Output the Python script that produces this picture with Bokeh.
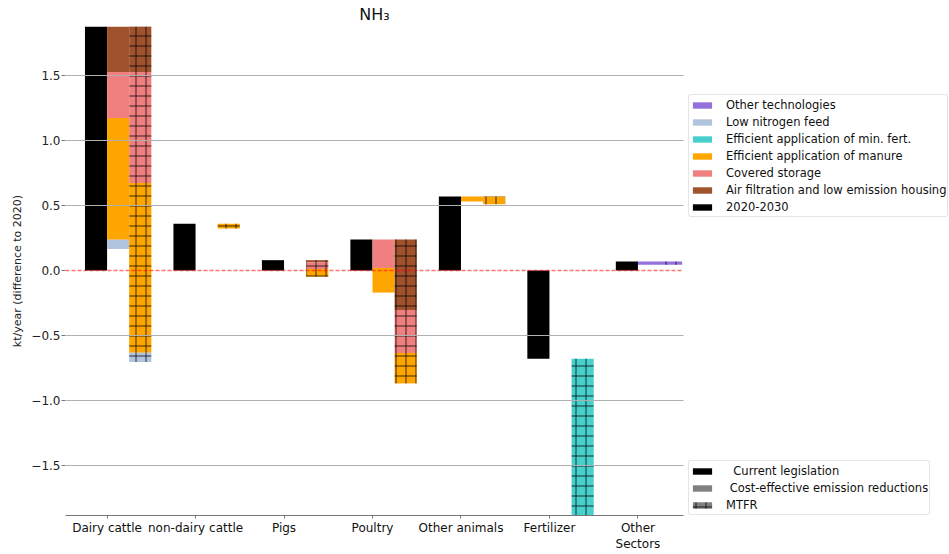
from bokeh.plotting import figure
from bokeh.layouts import row
from bokeh.models import (ColumnDataSource, FixedTicker, Span, Legend, LegendItem, Range1d)
from bokeh.embed import file_html
from bokeh.resources import INLINE

# --- data (kt/year, difference to 2020) ---------------------------------
categories = ["Dairy cattle", "non-dairy cattle", "Pigs", "Poultry",
              "Other animals", "Fertilizer", "Other\nSectors"]

# change 2020-2030 under current legislation
current_legislation = [2.10, 0.36, 0.08, 0.24, 0.57, -0.68, 0.07]

# measures, in stacking order (reductions are drawn downward from the CL value)
measures = ["Air filtration and low emission housing", "Covered storage",
            "Efficient application of manure", "Efficient application of min. fert.",
            "Low nitrogen feed", "Other technologies"]
measure_colors = ["sienna", "lightcoral", "orange", "mediumturquoise",
                  "lightsteelblue", "mediumpurple"]

# reductions, cost-effective scenario
ce_air_filtration = [0.57, 0.0, 0.0, 0.0, 0.0, 0.0, 0.0]
ce_covered_storage = [0.355, 0.0, 0.0, 0.22, 0.0, 0.0, 0.0]
ce_manure = [0.937, 0.0, 0.0, 0.19, 0.038, 0.0, 0.0]
ce_min_fert = [0.0, 0.0, 0.0, 0.0, 0.0, 0.0, 0.0]
ce_low_n_feed = [0.071, 0.0, 0.0, 0.0, 0.0, 0.0, 0.0]
ce_other_tech = [0.0, 0.0, 0.0, 0.0, 0.0, 0.0, 0.025]

# reductions, maximum technically feasible reduction (MTFR)
mtfr_air_filtration = [0.57, 0.0, 0.018, 0.545, 0.0, 0.0, 0.0]
mtfr_covered_storage = [0.855, 0.0, 0.05, 0.33, 0.0, 0.0, 0.0]
mtfr_manure = [1.308, 0.035, 0.06, 0.235, 0.059, 0.0, 0.0]
mtfr_min_fert = [0.0, 0.0, 0.0, 0.0, 0.0, 1.60, 0.0]
mtfr_low_n_feed = [0.072, 0.0, 0.0, 0.0, 0.0, 0.0, 0.0]
mtfr_other_tech = [0.0, 0.0, 0.0, 0.0, 0.0, 0.0, 0.025]

# legend order for the measures
legend_measures = ["Other technologies", "Low nitrogen feed",
                   "Efficient application of min. fert.", "Efficient application of manure",
                   "Covered storage", "Air filtration and low emission housing"]
scenarios = ["\u00a0\u00a0Current legislation", "\u00a0Cost-effective emission reductions", "MTFR"]

y_ticks = [-1.5, -1.0, -0.5, 0.0, 0.5, 1.0, 1.5]

BAR_W = 0.25
FONT = "DejaVu Sans"
HATCH = dict(hatch_pattern="+", hatch_color="black", hatch_scale=10,
             hatch_weight=1, hatch_alpha=0.75)

# --- main chart -----------------------------------------------------------
p = figure(width=684, height=554, output_backend="svg", toolbar_location=None,
           x_range=Range1d(-0.47, 6.515), y_range=Range1d(-1.888, 1.881),
           min_border_left=65, min_border_right=1, min_border_top=26,
           min_border_bottom=36)
p.outline_line_color = None
p.background_fill_color = "white"
p.border_fill_color = "white"

p.title.text = "NH\u2083"
p.title.align = "center"
p.title.text_font = FONT
p.title.text_font_size = "16px"
p.title.text_font_style = "normal"
p.title.text_color = "#111111"
p.title.standoff = 5

# current legislation bars
cl_src = ColumnDataSource(dict(
    x=[i - BAR_W / 2 for i in range(len(categories))],
    top=[max(v, 0) for v in current_legislation],
    bottom=[min(v, 0) for v in current_legislation]))
p.vbar(x="x", width=BAR_W, top="top", bottom="bottom", source=cl_src,
       fill_color="black", line_color=None)


def stacked_segments(reductions, offset, hatch):
    xs, tops, bottoms, colors = [], [], [], []
    for i, start in enumerate(current_legislation):
        level = start
        for m, series in enumerate(reductions):
            r = series[i]
            if r == 0:
                continue
            xs.append(i + offset)
            tops.append(level)
            bottoms.append(level - r)
            colors.append(measure_colors[m])
            level -= r
    src = ColumnDataSource(dict(x=xs, top=tops, bottom=bottoms, color=colors))
    kw = HATCH if hatch else {}
    p.vbar(x="x", width=BAR_W, top="top", bottom="bottom", source=src,
           fill_color="color", line_color=None, **kw)


stacked_segments([ce_air_filtration, ce_covered_storage, ce_manure,
                  ce_min_fert, ce_low_n_feed, ce_other_tech], BAR_W / 2, False)
stacked_segments([mtfr_air_filtration, mtfr_covered_storage, mtfr_manure,
                  mtfr_min_fert, mtfr_low_n_feed, mtfr_other_tech], 1.5 * BAR_W, True)

# zero reference line
p.add_layout(Span(location=0, dimension="width", line_color="red",
                  line_alpha=0.55, line_dash="4 2", line_width=1.5))

# axes and grid
p.xgrid.visible = False
p.ygrid.ticker = FixedTicker(ticks=[t for t in y_ticks if t != 0])
p.ygrid.grid_line_color = "#b0b0b0"
p.ygrid.grid_line_width = 1
p.ygrid.level = "overlay"

p.xaxis.ticker = FixedTicker(ticks=list(range(len(categories))))
p.xaxis.major_label_overrides = {i: c for i, c in enumerate(categories)}
p.xaxis.minor_tick_line_color = None
p.xaxis.axis_line_color = "#777777"
p.xaxis.major_tick_line_color = "#777777"
p.xaxis.major_tick_out = 3
p.xaxis.major_tick_in = 0
p.xaxis.major_label_standoff = 2
p.xaxis.major_label_text_font = FONT
p.xaxis.major_label_text_font_size = "12px"
p.xaxis.major_label_text_color = "#111111"

p.yaxis.ticker = FixedTicker(ticks=y_ticks)
p.yaxis.major_label_overrides = {t: ("\u2212%.1f" % -t if t < 0 else "%.1f" % t) for t in y_ticks}
p.yaxis.minor_tick_line_color = None
p.yaxis.axis_line_color = None
p.yaxis.major_tick_line_color = "#777777"
p.yaxis.major_tick_out = 4
p.yaxis.major_tick_in = 0
p.yaxis.major_label_standoff = 1
p.yaxis.major_label_text_font = FONT
p.yaxis.major_label_text_font_size = "12px"
p.yaxis.major_label_text_color = "#222222"
p.yaxis.axis_label = "kt/year (difference to 2020)"
p.yaxis.axis_label_text_font = FONT
p.yaxis.axis_label_text_font_size = "11px"
p.yaxis.axis_label_text_font_style = "normal"
p.yaxis.axis_label_text_color = "#222222"
p.yaxis.axis_label_standoff = 4

# --- legend panel -----------------------------------------------------------
# (its frame is aligned with the chart frame by the row layout)
lp = figure(width=265, height=554, output_backend="svg", toolbar_location=None,
            x_range=Range1d(0, 1), y_range=Range1d(0, 1),
            x_axis_location=None, y_axis_location=None,
            min_border_left=0, min_border_right=0, min_border_top=0,
            min_border_bottom=0)
lp.outline_line_color = None
lp.grid.visible = False
lp.background_fill_color = "white"
lp.border_fill_color = "white"


def swatch(color, hatch=False):
    # zero-size placeholder glyph; only its legend key is visible
    kw = HATCH if hatch else {}
    return lp.vbar(x=[0], top=[0], bottom=[0], width=0, fill_color=color,
                   line_color=None, **kw)


color_of = dict(zip(measures, measure_colors))
measure_items = [LegendItem(label=name, renderers=[swatch(color_of[name])])
                 for name in legend_measures]
measure_items.append(LegendItem(label="2020-2030", renderers=[swatch("black")]))

scenario_items = [
    LegendItem(label=scenarios[0], renderers=[swatch("black")]),
    LegendItem(label=scenarios[1], renderers=[swatch("#808080")]),
    LegendItem(label=scenarios[2], renderers=[swatch("#808080", True)]),
]


def style_legend(leg):
    leg.label_text_font = FONT
    leg.label_text_font_size = "11.5px"
    leg.label_text_color = "#111111"
    leg.glyph_width = 24
    leg.glyph_height = 8
    leg.label_height = 17
    leg.label_standoff = 12
    leg.spacing = 0
    leg.padding = 1
    leg.margin = 0
    leg.border_line_color = "#cccccc"
    leg.border_line_width = 1
    leg.border_radius = 3
    leg.background_fill_color = "white"
    leg.background_fill_alpha = 0.9


leg1 = Legend(items=measure_items, location=(4, 298))
leg2 = Legend(items=scenario_items, location=(4, 0))
for leg in (leg1, leg2):
    style_legend(leg)
    lp.add_layout(leg, "center")

layout = row(p, lp, spacing=0)
open("out.html", "w").write(file_html(layout, INLINE))
